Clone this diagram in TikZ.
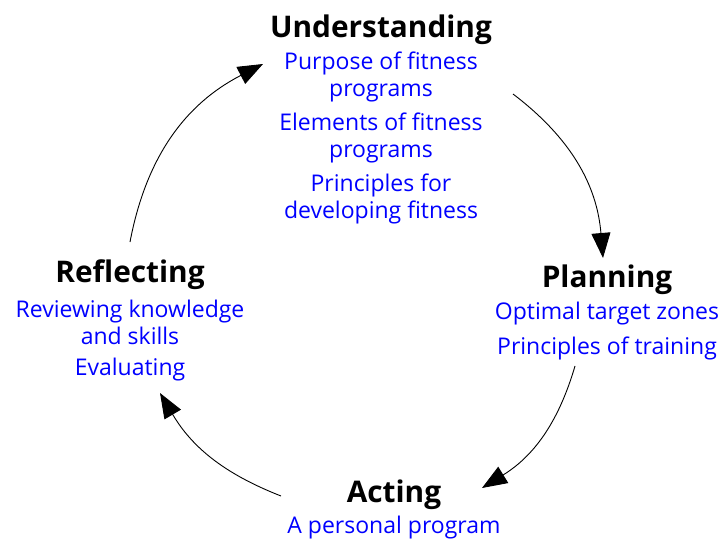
\documentclass[tikz,border=0pt]{standalone}
\usepackage{fontspec}
\setmainfont{Open Sans}
\usetikzlibrary{arrows.meta}

\begin{document}
\begin{tikzpicture}[x=1pt, y=-1pt,
    stage/.style={font=\fontsize{29.8}{34}\selectfont\bfseries, inner sep=0pt},
    item/.style={font=\fontsize{23}{27}\selectfont, text=blue, align=center, inner sep=0pt},
    cycle/.style={-{Triangle[length=25pt, width=19pt]}, line width=0.9pt},
]
    \useasboundingbox (0,0) rectangle (725,540);

    % the four stages
    \node [stage] (understanding) at (381,30) {Understanding};
    \node [item] (purpose) at (381,77) {Purpose of fitness\\programs};
    \node [item] (elements) at (381,138) {Elements of fitness\\programs};
    \node [item] (principles) at (381,199) {Principles for\\developing fitness};

    \node [stage] (planning) at (607,280) {Planning};
    \node [item] (zones) at (607,314) {Optimal target zones};
    \node [item] (training) at (607,348) {Principles of training};

    \node [stage] (acting) at (394,495) {Acting};
    \node [item] (program) at (394,528) {A personal program};

    \node [stage] (reflecting) at (130,275) {Reflecting};
    \node [item] (reviewing) at (130,322) {Reviewing knowledge\\and skills};
    \node [item] (evaluating) at (130,370) {Evaluating};

    % arrow ends
    \coordinate (u-out) at (513,94);
    \coordinate (p-in) at (603,258);
    \coordinate (p-out) at (575,366);
    \coordinate (a-in) at (482,488);
    \coordinate (a-out) at (281,496);
    \coordinate (r-in) at (160,393);
    \coordinate (r-out) at (130,242);
    \coordinate (u-in) at (263,64);

    \draw [cycle] (u-out) to [bend left=24] (p-in);
    \draw [cycle] (p-out) to [bend left=21] (a-in);
    \draw [cycle] (a-out) to [bend left=19] (r-in);
    \draw [cycle] (r-out) to [bend left=26] (u-in);
\end{tikzpicture}
\end{document}
